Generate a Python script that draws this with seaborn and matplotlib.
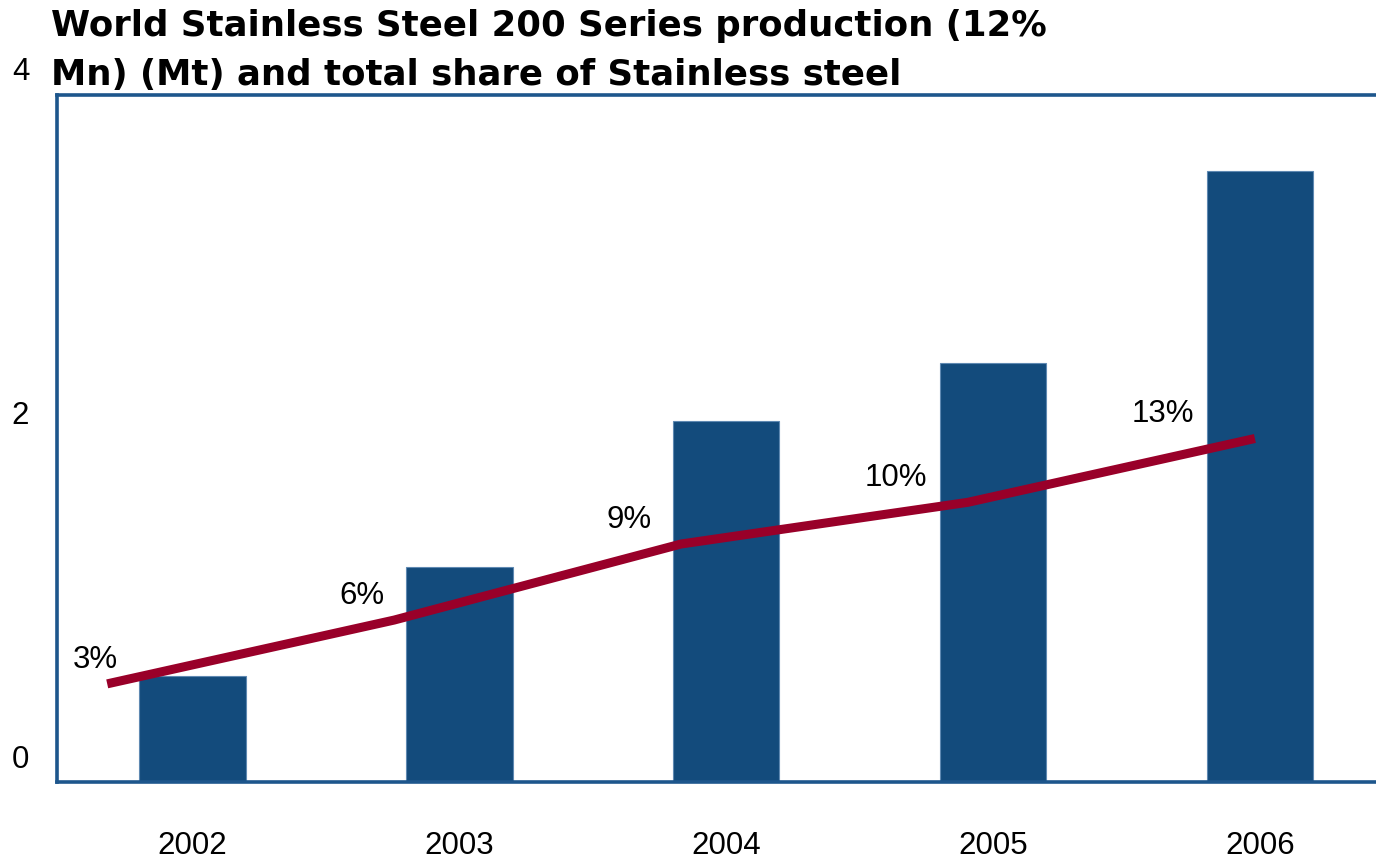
import matplotlib
matplotlib.use("Agg")
import matplotlib.pyplot as plt
import seaborn as sns
import pandas as pd
from matplotlib.transforms import ScaledTranslation, blended_transform_factory

# ---- data ----
years = ["2002", "2003", "2004", "2005", "2006"]
production_mt = [0.62, 1.25, 2.10, 2.44, 3.56]
share_pct = [3.0, 5.6, 8.7, 10.4, 13.0]
share_labels = ["3%", "6%", "9%", "10%", "13%"]
y_ticks = [0, 2, 4]
title = ("World Stainless Steel 200 Series production (12%\n"
         "Mn) (Mt) and total share of Stainless steel")

sns.set_theme(style="white")
plt.rcParams['font.family'] = ['Liberation Sans', 'DejaVu Sans']

BAR = "#134b7c"
LINE = "#990029"
SPINE = "#1d568c"
FS = 22.5

W, H = 1376, 859
fig = plt.figure(figsize=(W / 100, H / 100), dpi=100)
fig.patch.set_facecolor("white")
left, right, bottom, top = 57 / W, 1380 / W, 1 - 782 / H, 1 - 95 / H
rect = [left, bottom, right - left, top - bottom]
ax = fig.add_axes(rect)

df = pd.DataFrame({"year": years, "prod": production_mt})
sns.barplot(data=df, x="year", y="prod", color=BAR, width=0.4, saturation=1,
            edgecolor="#5f89b2", linewidth=0.8, ax=ax)
ax.set_xlim(-0.507, 4.45)
ax.set_ylim(0, 4)
ax.set_xlabel("")
ax.set_ylabel("")
ax.set_facecolor("white")
for s in ax.spines.values():
    s.set_color(SPINE)
    s.set_linewidth(2.6)
    s.set_visible(True)
ax.tick_params(axis="x", length=0, pad=35, labelsize=FS, labelcolor="black")
ax.set_yticks(y_ticks, labels=[str(v) for v in y_ticks])
ax.tick_params(axis="y", length=0, pad=20, labelsize=FS, labelcolor="black")
for lbl in ax.get_yticklabels():
    lbl.set_transform(lbl.get_transform() + ScaledTranslation(0, 26 / 100, fig.dpi_scale_trans))

# line on its own (hidden) scales
ax_line = fig.add_axes(rect, frameon=False)
ax_line.patch.set_alpha(0)
sns.lineplot(x=list(range(len(years))), y=share_pct, color=LINE, linewidth=6.5,
             solid_capstyle="butt", ax=ax_line)
ax_line.set_xlim(-0.175, 4.436)
ax_line.set_ylim(-1, 27)
ax_line.axis("off")

tr = blended_transform_factory(ax.transData, ax_line.transData) + \
    ScaledTranslation(0, 24 / 100, fig.dpi_scale_trans)
for i, (v, lab) in enumerate(zip(share_pct, share_labels)):
    fig.text(i - 0.364, v, lab, transform=tr, ha="center", va="center",
             fontsize=FS, color="black")

fig.text(51 / W, 1 - 9 / H, title, ha="left", va="top", fontsize=25.6,
         fontweight="bold", family=["DejaVu Sans"], color="black",
         linespacing=1.55, zorder=10)

fig.savefig("out.png", dpi=100)
